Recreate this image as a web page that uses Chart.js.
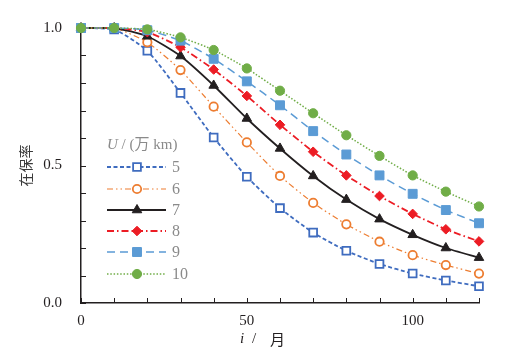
<!DOCTYPE html>
<html lang="zh-CN">
<head>
<meta charset="UTF-8">
<title>在保率</title>
<script src="https://cdn.jsdelivr.net/npm/chart.js"></script>
<style>
  html, body { margin: 0; padding: 0; background: #fff; }
  #wrap { width: 505px; height: 359px; }
</style>
</head>
<body>
<div id="wrap"><canvas id="grafico"></canvas></div>
<script>
// dados
const meses = [0, 10, 20, 30, 40, 50, 60, 70, 80, 90, 100, 110, 120];
const rotulosU = ['5', '6', '7', '8', '9', '10'];
const u5  = [1.0, 0.995, 0.917, 0.764, 0.602, 0.459, 0.345, 0.256, 0.190, 0.142, 0.107, 0.082, 0.061];
const u6  = [1.0, 1.0, 0.948, 0.847, 0.714, 0.584, 0.462, 0.364, 0.286, 0.223, 0.174, 0.138, 0.107];
const u7  = [1.0, 1.0, 0.970, 0.898, 0.791, 0.671, 0.562, 0.462, 0.376, 0.305, 0.248, 0.200, 0.165];
const u8  = [1.0, 1.0, 0.985, 0.930, 0.849, 0.753, 0.648, 0.550, 0.464, 0.389, 0.324, 0.268, 0.224];
const u9  = [1.0, 1.0, 0.992, 0.954, 0.888, 0.806, 0.719, 0.625, 0.540, 0.464, 0.397, 0.338, 0.290];
const u10 = [1.0, 1.0, 0.995, 0.966, 0.920, 0.853, 0.772, 0.690, 0.610, 0.535, 0.464, 0.405, 0.351];
const rotulosY = { 0: '0.0', 5: '0.5', 10: '1.0' };
const rotulosX = [0, 50, 100];

const serif = "'Liberation Serif', 'Times New Roman', serif";
const tinta = '#231F20';

const estilos = [
  { cor: '#3F6CBF', largura: 1.8, traco: [4, 2.5], ponto: 'rect', raio: 5.5, preenchido: false },
  { cor: '#ED7D31', largura: 1.2, traco: [6, 3, 1.5, 3, 1.5, 3], ponto: 'circle', raio: 4.2, preenchido: false },
  { cor: tinta, largura: 1.8, traco: [], ponto: 'triangle', raio: 5.5, preenchido: true },
  { cor: '#EC1C24', largura: 1.8, traco: [7, 3, 1.5, 3], ponto: 'rectRot', raio: 4.8, preenchido: true },
  { cor: '#5B9BD5', largura: 1.5, traco: [8, 5], ponto: 'rect', raio: 6.3, preenchido: true },
  { cor: '#70AD47', largura: 1.5, traco: [1.5, 1.8], ponto: 'circle', raio: 4.6, preenchido: true }
];
const valores = [u5, u6, u7, u8, u9, u10];

const datasets = valores.map((dados, i) => {
  const e = estilos[i];
  return {
    label: rotulosU[i],
    data: dados,
    borderColor: e.cor,
    borderWidth: e.largura,
    borderDash: e.traco,
    backgroundColor: e.preenchido ? e.cor : '#ffffff',
    pointStyle: e.ponto,
    pointRadius: e.raio,
    pointBorderWidth: e.preenchido ? 1 : 1.8,
    pointBorderColor: e.cor,
    pointBackgroundColor: e.preenchido ? e.cor : '#ffffff',
    tension: 0.2,
    clip: false,
    order: 5 - i
  };
});

// marcas dos eixos viradas para dentro
const marcasInternas = {
  id: 'marcasInternas',
  beforeDatasetsDraw(chart) {
    const { ctx, chartArea, scales } = chart;
    ctx.save();
    ctx.strokeStyle = tinta;
    ctx.lineWidth = 1;
    ctx.beginPath();
    scales.x.ticks.forEach(t => {
      const px = Math.round(scales.x.getPixelForValue(t.value)) + 0.5;
      ctx.moveTo(px, chartArea.bottom);
      ctx.lineTo(px, chartArea.bottom - 5);
    });
    scales.y.ticks.forEach(t => {
      const py = Math.round(scales.y.getPixelForValue(t.value)) + 0.5;
      ctx.moveTo(chartArea.left, py);
      ctx.lineTo(chartArea.left + 5, py);
    });
    ctx.stroke();
    ctx.restore();
  }
};

// legenda dentro do gráfico + título do eixo x (com i em itálico)
const legendaInterna = {
  id: 'legendaInterna',
  afterDraw(chart) {
    const ctx = chart.ctx;
    ctx.save();
    ctx.textBaseline = 'middle';
    ctx.fillStyle = '#8A8A8A';
    ctx.font = "italic 15px " + serif;
    ctx.fillText('U', 107, 145);
    let x = 107 + ctx.measureText('U').width;
    ctx.font = "15px " + serif + ", 'Noto Sans CJK SC'";
    ctx.fillText(' / (万 km)', x, 145);

    const ys = [167, 189, 210, 231, 252, 274];
    chart.data.datasets.forEach((ds, i) => {
      const y = ys[i];
      ctx.save();
      ctx.strokeStyle = ds.borderColor;
      ctx.lineWidth = ds.borderWidth;
      ctx.setLineDash(ds.borderDash);
      ctx.beginPath();
      ctx.moveTo(107, y);
      ctx.lineTo(166, y);
      ctx.stroke();
      ctx.setLineDash([]);
      ctx.fillStyle = ds.pointBackgroundColor;
      ctx.strokeStyle = ds.pointBorderColor;
      ctx.lineWidth = ds.pointBorderWidth;
      Chart.helpers.drawPoint(ctx, {
        pointStyle: ds.pointStyle, radius: ds.pointRadius, rotation: 0, borderWidth: ds.pointBorderWidth
      }, 137, y);
      ctx.restore();
      ctx.fillStyle = '#8A8A8A';
      ctx.font = "16px " + serif;
      ctx.fillText(ds.label, 172, y + 1);
    });

    ctx.fillStyle = tinta;
    ctx.font = "italic 15px " + serif;
    ctx.fillText('i', 240, 339);
    ctx.font = "15px " + serif;
    ctx.fillText('/', 252, 339);
    ctx.font = "15px 'Noto Sans CJK SC'";
    ctx.fillText('月', 270, 339);
    ctx.restore();
  }
};

new Chart(document.getElementById('grafico'), {
  type: 'line',
  data: { labels: meses, datasets: datasets },
  options: {
    responsive: true,
    maintainAspectRatio: false,
    animation: false,
    layout: { padding: { top: 23, right: 26, left: 0, bottom: 0 } },
    plugins: { legend: { display: false }, tooltip: { enabled: false } },
    scales: {
      x: {
        type: 'linear',
        min: 0, max: 120,
        grid: { display: false, drawTicks: false },
        border: { display: true, color: tinta, width: 1.5 },
        ticks: {
          stepSize: 10, autoSkip: false, maxRotation: 0, padding: 9,
          color: tinta, font: { family: serif, size: 15 },
          callback: v => rotulosX.includes(v) ? String(v) : ''
        },
        afterFit: s => { s.height = 56; }
      },
      y: {
        min: 0, max: 1,
        grid: { display: false, drawTicks: false },
        border: { display: true, color: tinta, width: 1.5 },
        ticks: {
          stepSize: 0.1, autoSkip: false, padding: 19,
          color: tinta, font: { family: serif, size: 15 },
          callback: (v, i) => rotulosY[i] !== undefined ? rotulosY[i] : ''
        },
        title: {
          display: true, text: '在保率', color: '#3A3A3A',
          font: { family: "'Noto Sans CJK SC'", size: 14 },
          padding: { top: 17, bottom: 0 }
        },
        afterFit: s => { s.width = 81; }
      }
    }
  },
  plugins: [marcasInternas, legendaInterna]
});
</script>
</body>
</html>
